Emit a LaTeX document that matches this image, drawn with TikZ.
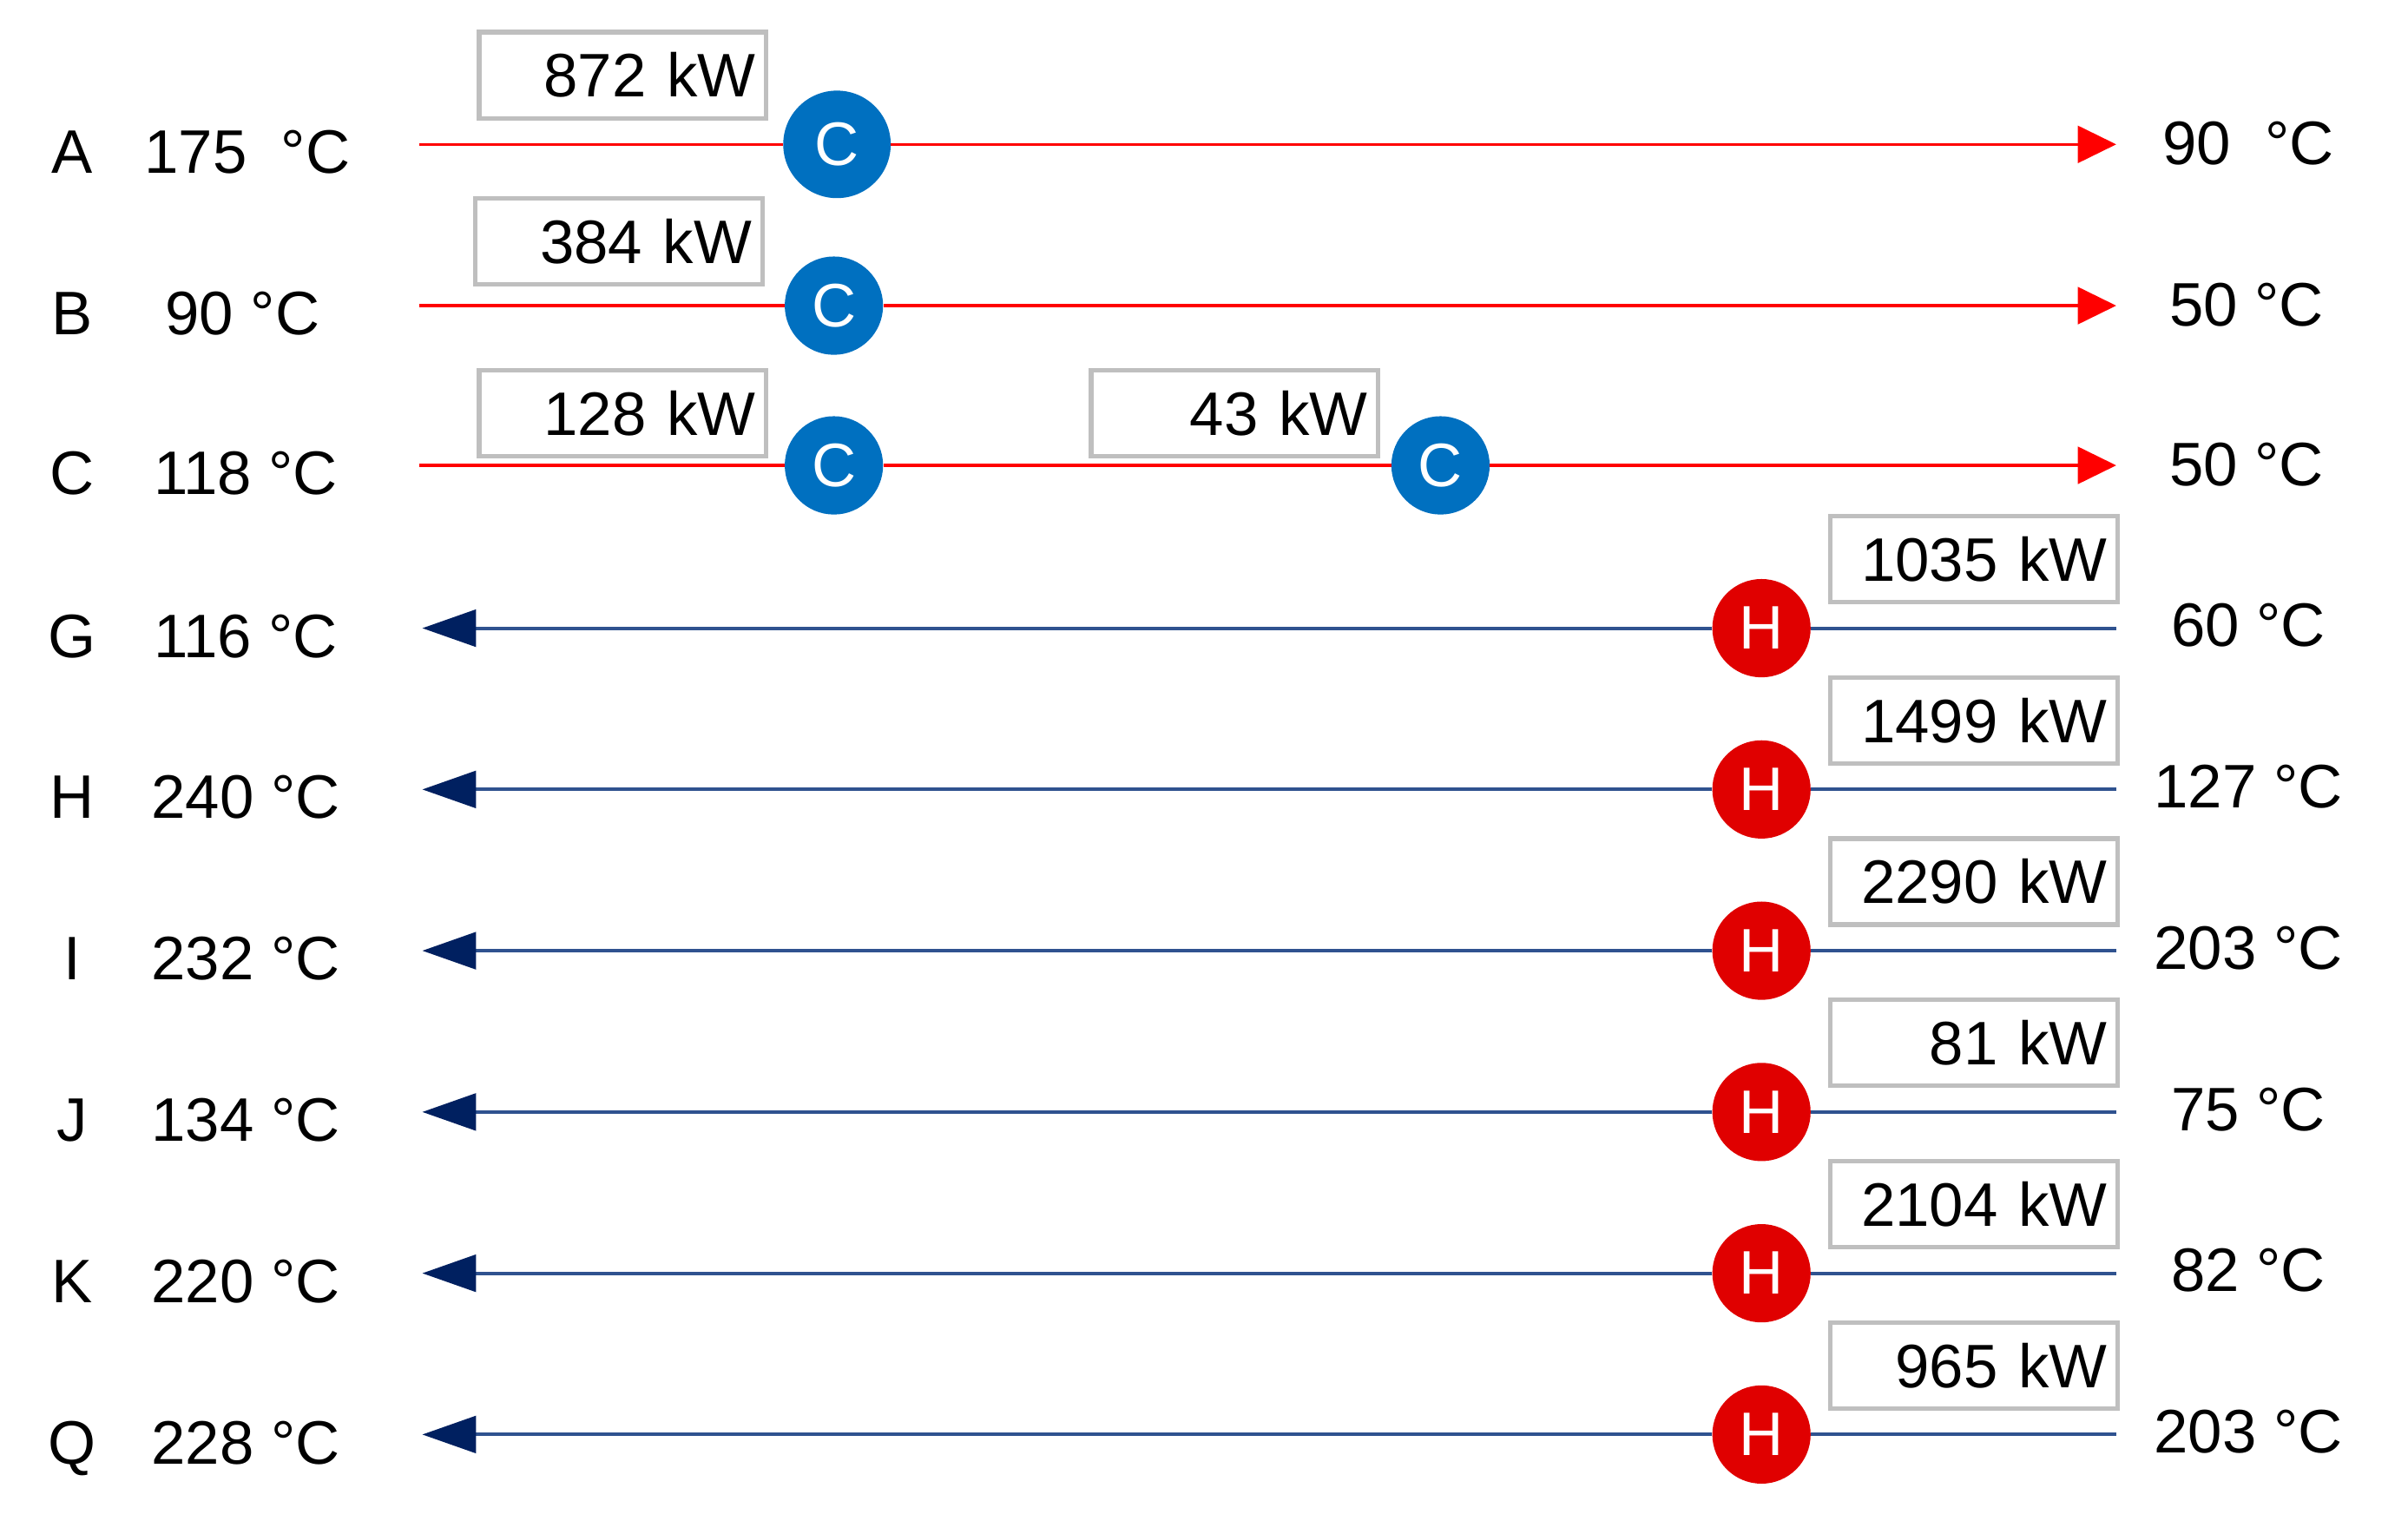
\documentclass[tikz,border=0pt]{standalone}
\usepackage{fontspec}
\setmainfont{Liberation Sans}
\usetikzlibrary{arrows.meta}
\definecolor{hotred}{HTML}{FF0000}
\definecolor{coldcol}{HTML}{2F528F}
\definecolor{navytip}{HTML}{002060}
\definecolor{cblue}{HTML}{0070C0}
\definecolor{hred}{HTML}{E00000}
\definecolor{boxgray}{HTML}{BFBFBF}
\begin{document}
\begin{tikzpicture}[x=1pt,y=-1pt,
  lbl/.style={font=\fontsize{40}{48}\selectfont, inner sep=0pt, anchor=base},
  hotstream/.style={draw=hotred, line width=2pt},
  hotend/.style={hotstream, -{Triangle[length=25pt,width=24pt]}},
  coldstream/.style={draw=coldcol, line width=2.2pt},
  coldend/.style={coldstream, -{Triangle[length=35pt,width=24pt,color=navytip]}},
  cooler/.style={circle, fill=cblue, text=white, minimum size=64pt, inner sep=0pt, font=\fontsize{40}{40}\selectfont},
  heater/.style={circle, fill=hred, text=white, minimum size=64pt, inner sep=0pt, font=\fontsize{40}{40}\selectfont},
  dutybox/.style={draw=boxgray, line width=3pt, fill=white, minimum height=56pt, text width=173pt, inner xsep=7pt, inner ysep=0pt, align=right, font=\fontsize{40}{48}\selectfont}
]
\useasboundingbox (0,0) rectangle (1568,990);

% ---------- hot streams ----------
% A
\coordinate (As) at (273,94); \coordinate (Ae) at (1378,94);
\node[cooler, minimum size=70pt] (cA) at (545,94) {C};
\draw[hotstream] (As) -- (cA);
\draw[hotend] (cA) -- (Ae);
\node[dutybox] (bA) at (405.5,49) {872 kW};
\node[lbl] (nA) at (47,113) {A};
\node[lbl] (tA) at (161,113) {175~~°C};
\node[lbl] (oA) at (1464,107) {90~~°C};
% B
\coordinate (Bs) at (273,199); \coordinate (Be) at (1378,199);
\node[cooler] (cB) at (543,199) {C};
\draw[hotstream] (Bs) -- (cB);
\draw[hotend] (cB) -- (Be);
\node[dutybox] (bB) at (403,157) {384 kW};
\node[lbl] (nB) at (47,218) {B};
\node[lbl] (tB) at (158,218) {90 °C};
\node[lbl] (oB) at (1463,212) {50 °C};
% C
\coordinate (Cs) at (273,303); \coordinate (Ce) at (1378,303);
\node[cooler] (cC1) at (543,303) {C};
\node[cooler] (cC2) at (938,303) {C};
\draw[hotstream] (Cs) -- (cC1);
\draw[hotstream] (cC1) -- (cC2);
\draw[hotend] (cC2) -- (Ce);
\node[dutybox] (bC1) at (405.5,269) {128 kW};
\node[dutybox] (bC2) at (804,269) {43 kW};
\node[lbl] (nC) at (47,322) {C};
\node[lbl] (tC) at (160,322) {118 °C};
\node[lbl] (oC) at (1463,316) {50 °C};

% ---------- cold streams ----------
\foreach \nm/\yy/\duty/\tin/\tout in {G/409/1035 kW/116 °C/60 °C,
    H/514/1499 kW/240 °C/127 °C,
    I/619/2290 kW/232 °C/203 °C,
    J/724/81 kW/134 °C/75 °C,
    K/829/2104 kW/220 °C/82 °C,
    Q/934/965 kW/228 °C/203 °C}{
  \coordinate (\nm s) at (1378,\yy);
  \coordinate (\nm e) at (275,\yy);
  \node[heater] (h\nm) at (1147,\yy) {H};
  \draw[coldstream] (\nm s) -- (h\nm);
  \draw[coldend] (h\nm) -- (\nm e);
  \node[dutybox] (b\nm) at (1285.5,\yy-45) {\duty};
  \node[lbl] (n\nm) at (47,\yy+19) {\nm};
  \node[lbl] (t\nm) at (160,\yy+19) {\tin};
  \node[lbl] (o\nm) at (1464,\yy+12) {\tout};
}
\end{tikzpicture}
\end{document}
